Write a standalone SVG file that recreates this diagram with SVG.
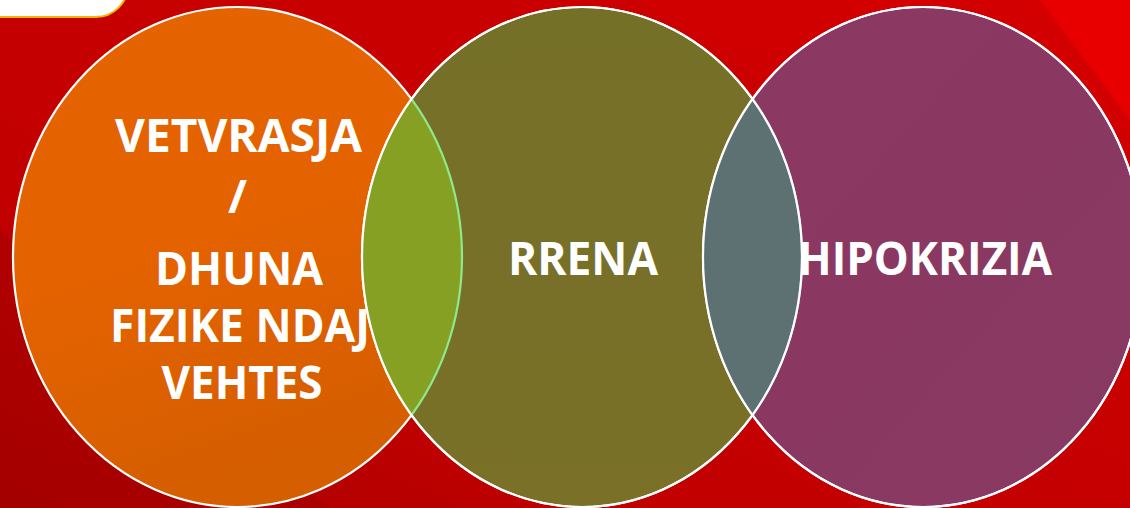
<svg xmlns="http://www.w3.org/2000/svg" width="1130" height="508" viewBox="0 0 1130 508">
  <defs>
    <linearGradient id="bg" x1="0" y1="1" x2="1" y2="0">
      <stop offset="0" stop-color="#A80000"/>
      <stop offset="0.3" stop-color="#C20000"/>
      <stop offset="0.75" stop-color="#CA0000"/>
      <stop offset="1" stop-color="#D60000"/>
    </linearGradient>
    <linearGradient id="gOrange" x1="0" y1="0" x2="0.3" y2="1">
      <stop offset="0" stop-color="#E46400"/>
      <stop offset="0.55" stop-color="#E46200"/>
      <stop offset="1" stop-color="#D55E00"/>
    </linearGradient>
    <linearGradient id="gOlive" x1="0" y1="0" x2="0" y2="1">
      <stop offset="0" stop-color="#757028"/>
      <stop offset="1" stop-color="#7A7028"/>
    </linearGradient>
    <linearGradient id="gPurple" x1="0" y1="0" x2="1" y2="1">
      <stop offset="0" stop-color="#8C3962"/>
      <stop offset="0.5" stop-color="#8A3862"/>
      <stop offset="1" stop-color="#883A62"/>
    </linearGradient>
    <clipPath id="clipL"><ellipse cx="237.5" cy="257" rx="224.5" ry="250"/></clipPath>
    <clipPath id="clipM"><ellipse cx="582" cy="257" rx="220" ry="250"/></clipPath>
    <clipPath id="clipR"><ellipse cx="923" cy="257" rx="220" ry="250"/></clipPath>
    <style>
      .edge { stroke: #FFFFFF; stroke-width: 2.2; }
      .lbl { font-family: "Open Sans", "Liberation Sans", sans-serif; font-weight: 700; font-size: 46px; fill: #FFFFFF; text-anchor: middle; }
    </style>
  </defs>

  <!-- background -->
  <rect x="0" y="0" width="1130" height="508" fill="url(#bg)"/>
  <polygon points="640,0 1130,0 1130,330" fill="#D40000" opacity="0.5"/>
  <polygon points="1040,0 1130,0 1130,120" fill="#E80000"/>
  <polygon points="0,230 0,508 330,508" fill="#A00000" opacity="0.45"/>

  <!-- top-left white tab -->
  <rect id="tab" x="-40" y="-70" width="168" height="87" rx="32" fill="#FFFFFF" stroke="#F2B400" stroke-width="2"/>

  <g id="node-vetvrasja">
    <ellipse cx="237.5" cy="257" rx="224.5" ry="250" fill="url(#gOrange)" class="edge"/>
  </g>
  <g id="node-rrena">
    <ellipse cx="582" cy="257" rx="220" ry="250" fill="url(#gOlive)" class="edge"/>
  </g>
  <g id="node-hipokrizia">
    <ellipse cx="923" cy="257" rx="220" ry="250" fill="url(#gPurple)" class="edge"/>
  </g>

  <g id="overlaps">
    <g clip-path="url(#clipM)">
      <ellipse cx="237.5" cy="257" rx="224.5" ry="250" fill="#86A024"/>
      <ellipse cx="237.5" cy="257" rx="224.5" ry="250" fill="none" stroke="#8EE88C" stroke-width="2.2"/>
    </g>
    <g clip-path="url(#clipR)">
      <ellipse cx="582" cy="257" rx="220" ry="250" fill="#5D7173"/>
      <ellipse cx="582" cy="257" rx="220" ry="250" fill="none" stroke="#A0B8E4" stroke-width="2.2"/>
    </g>
    <ellipse cx="582" cy="257" rx="220" ry="250" fill="none" class="edge"/>
    <ellipse cx="923" cy="257" rx="220" ry="250" fill="none" class="edge"/>
  </g>

  <g id="labels">
    <text class="lbl" x="238.5" y="152" textLength="247" lengthAdjust="spacingAndGlyphs">VETVRASJA</text>
    <text class="lbl" x="237.5" y="213" font-size="48">/</text>
    <text class="lbl" x="239" y="285" textLength="168" lengthAdjust="spacingAndGlyphs">DHUNA</text>
    <text class="lbl" x="240" y="342" textLength="260" lengthAdjust="spacingAndGlyphs">FIZIKE NDAJ</text>
    <text class="lbl" x="242" y="399" textLength="161" lengthAdjust="spacingAndGlyphs">VEHTES</text>
    <text class="lbl" x="583" y="275" textLength="150" lengthAdjust="spacingAndGlyphs">RRENA</text>
    <text class="lbl" x="925" y="275" textLength="254" lengthAdjust="spacingAndGlyphs">HIPOKRIZIA</text>
  </g>
</svg>
